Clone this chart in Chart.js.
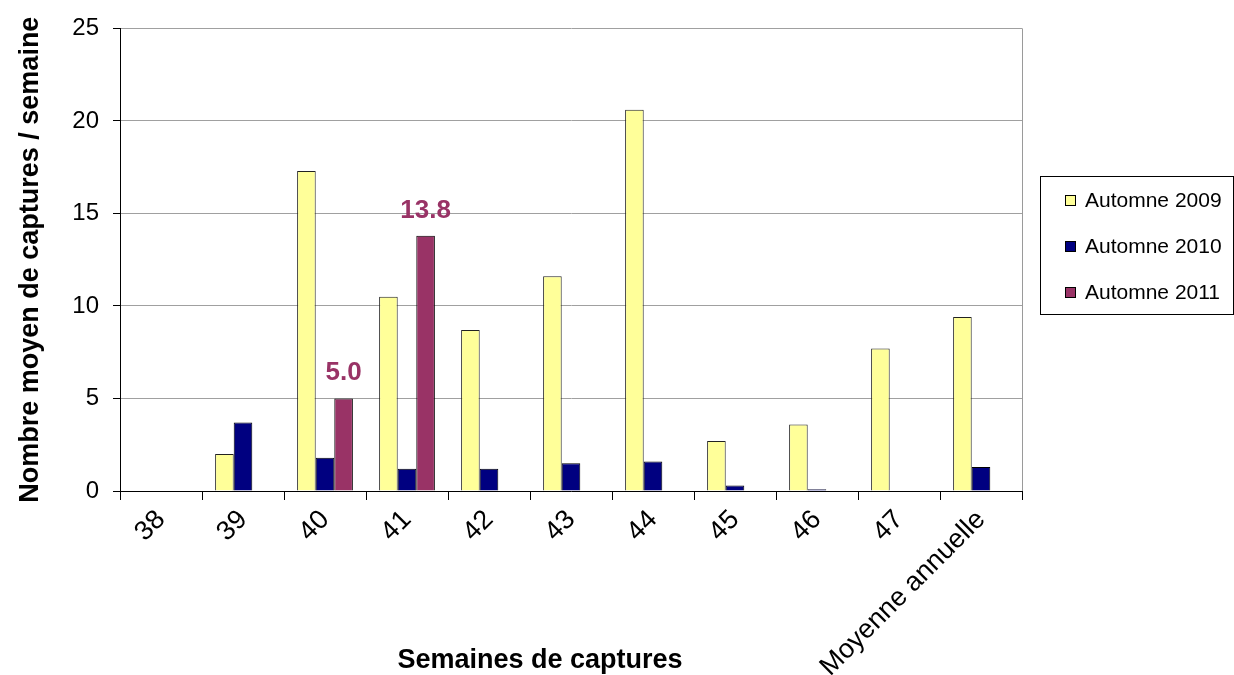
<!DOCTYPE html>
<html>
<head>
<meta charset="utf-8">
<script src="https://cdn.jsdelivr.net/npm/chart.js@4.4.0/dist/chart.umd.min.js"></script>
<style>
  html, body { margin: 0; padding: 0; background: #fff; }
  #wrap { width: 1234px; height: 675px; }
</style>
</head>
<body>
<div id="wrap"><canvas id="c" width="1234" height="675"></canvas></div>
<script>
const categories = ['38', '39', '40', '41', '42', '43', '44', '45', '46', '47', 'Moyenne annuelle'];
const automne2009 = [null, 2.0, 17.3, 10.5, 8.7, 11.6, 20.6, 2.7, 3.6, 7.7, 9.4];
const automne2010 = [null, 3.7, 1.8, 1.2, 1.2, 1.5, 1.6, 0.3, 0.1, 0, 1.3];
const automne2011 = [null, null, 5.0, 13.8, null, null, null, null, null, null, null];
const seriesNames = ['Automne 2009', 'Automne 2010', 'Automne 2011'];
const yTicks = [0, 5, 10, 15, 20, 25];
const xTitle = 'Semaines de captures';
const yTitle = 'Nombre moyen de captures / semaine';

const FONT = "'Liberation Sans', Arial, sans-serif";
const colors = ['#FFFF99', '#000080', '#993366'];

const extras = {
  id: 'extras',
  afterDatasetsDraw(chart) {
    const ctx = chart.ctx;
    const ca = chart.chartArea;
    ctx.save();
    // right border of plot area
    ctx.strokeStyle = '#9a9a9a';
    ctx.lineWidth = 1;
    ctx.beginPath();
    ctx.moveTo(Math.round(ca.right) + 0.5, ca.top);
    ctx.lineTo(Math.round(ca.right) + 0.5, ca.bottom);
    ctx.stroke();
    // data labels for 2011
    const meta = chart.getDatasetMeta(2);
    ctx.fillStyle = '#993366';
    ctx.font = "bold 26px " + FONT;
    ctx.textAlign = 'center';
    ctx.textBaseline = 'alphabetic';
    meta.data.forEach((el, i) => {
      const v = chart.data.datasets[2].data[i];
      if (v === null || v === undefined) return;
      ctx.fillText(v.toFixed(1), el.x, el.y - 18);
    });
    // x title
    ctx.fillStyle = '#000';
    ctx.font = "bold 27px " + FONT;
    ctx.textBaseline = 'middle';
    ctx.fillText(xTitle, 540, 661);
    // legend
    ctx.strokeStyle = '#000';
    ctx.lineWidth = 1;
    ctx.strokeRect(1040.5, 176.5, 193, 138);
    const ys = [200, 246, 292];
    ctx.font = "21px " + FONT;
    ctx.textAlign = 'left';
    chart.data.datasets.forEach((ds, i) => {
      ctx.fillStyle = ds.backgroundColor;
      ctx.fillRect(1065, ys[i] - 5, 10, 10);
      ctx.strokeStyle = '#000';
      ctx.strokeRect(1065.5, ys[i] - 4.5, 10, 10);
      ctx.fillStyle = '#000';
      ctx.fillText(ds.label, 1085, ys[i] + 1);
    });
    ctx.restore();
  }
};

new Chart(document.getElementById('c'), {
  type: 'bar',
  data: {
    labels: categories,
    datasets: [
      { label: seriesNames[0], data: automne2009, backgroundColor: colors[0], borderColor: '#222', borderWidth: 1 },
      { label: seriesNames[1], data: automne2010, backgroundColor: colors[1], borderColor: '#000', borderWidth: 1 },
      { label: seriesNames[2], data: automne2011, backgroundColor: colors[2], borderColor: '#000', borderWidth: 1 }
    ]
  },
  options: {
    responsive: false,
    animation: false,
    devicePixelRatio: 1,
    layout: { padding: { left: 0, right: 212, top: 28, bottom: 0 } },
    datasets: { bar: { categoryPercentage: 0.68, barPercentage: 1.0 } },
    plugins: { legend: { display: false }, tooltip: { enabled: false } },
    scales: {
      x: {
        grid: { offset: true, drawOnChartArea: false, tickLength: 9, tickColor: '#000' },
        border: { color: '#000', width: 1 },
        ticks: { color: '#000', font: { family: FONT, size: 27 }, maxRotation: 45, minRotation: 45, autoSkip: false, padding: 4, labelOffset: 0 },
        afterFit(scale) { scale.height = 675 - 491; }
      },
      y: {
        min: 0, max: 25,
        afterBuildTicks(scale) { scale.ticks = yTicks.map(v => ({ value: v })); },
        grid: { color: '#a0a0a0', tickLength: 7, tickColor: '#000' },
        border: { color: '#000', width: 1 },
        ticks: { color: '#000', font: { family: FONT, size: 24 }, padding: 14 },
        title: { display: true, text: yTitle, color: '#000', font: { family: FONT, size: 27, weight: 'bold' }, padding: { top: 14, bottom: 0 } },
        afterFit(scale) { scale.width = 120; }
      }
    }
  },
  plugins: [extras]
});
</script>
</body>
</html>
